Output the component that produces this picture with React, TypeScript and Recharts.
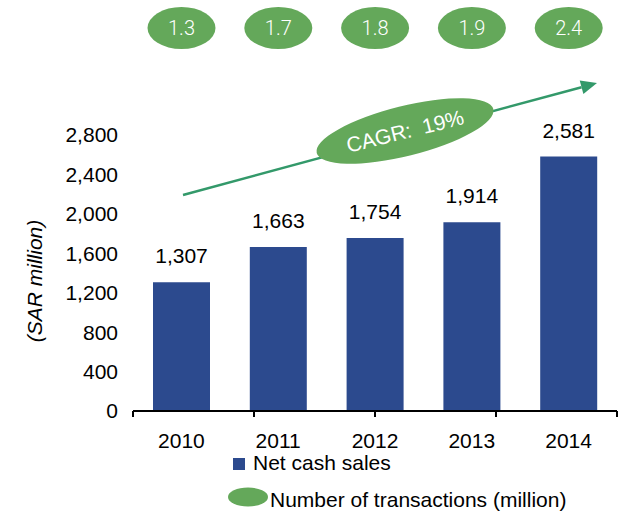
import React from 'react';
import {
  BarChart,
  Bar,
  XAxis,
  YAxis,
  LabelList,
  Legend,
  Customized,
} from 'recharts';

const years = ['2010', '2011', '2012', '2013', '2014'];
const netCashSales = [1307, 1663, 1754, 1914, 2581];
const transactions = [1.3, 1.7, 1.8, 1.9, 2.4];
const yTicks = [0, 400, 800, 1200, 1600, 2000, 2400, 2800];
const bandTicks = [0, 1, 2, 3, 4, 5];
const cagrText = 'CAGR:  19%';

const data = years.map((year, i) => ({
  year,
  sales: netCashSales[i],
  transactions: transactions[i],
}));

const BLUE = '#2C4A8E';
const GREEN = '#64A85A';
const ARROW = '#33996A';
const FONT = '"Liberation Sans", Arial, sans-serif';
const FS = 21;

const fmt = (v: number) => v.toLocaleString('en-US');

const TransactionBubble = (props: any) => {
  const { x, width, value } = props;
  const cx = Number(x) + Number(width) / 2;
  return (
    <g>
      <ellipse cx={cx} cy={28} rx={34} ry={21} fill={GREEN} />
      <text
        x={cx}
        y={28}
        dy="0.36em"
        textAnchor="middle"
        fill="#fff"
        fontSize={20}
        fontFamily="Roboto, sans-serif"
        fontWeight={300}
      >
        {value}
      </text>
    </g>
  );
};

const CagrArrow = () => {
  const x1 = 183;
  const y1 = 195;
  const x2 = 597;
  const y2 = 83;
  const ang = Math.atan2(y2 - y1, x2 - x1);
  const len = 16;
  const half = 7;
  const bx = x2 - len * Math.cos(ang);
  const by = y2 - len * Math.sin(ang);
  const px = -Math.sin(ang) * half;
  const py = Math.cos(ang) * half;
  return (
    <g>
      <line x1={x1} y1={y1} x2={bx} y2={by} stroke={ARROW} strokeWidth={2.5} />
      <polygon
        points={`${x2},${y2} ${bx + px},${by + py} ${bx - px},${by - py}`}
        fill={ARROW}
      />
      <ellipse
        cx={405}
        cy={131}
        rx={91}
        ry={25}
        fill={GREEN}
        transform="rotate(-14 405 131)"
      />
      <text
        x={405}
        y={131}
        dy="0.36em"
        textAnchor="middle"
        fill="#fff"
        fontSize={FS}
        fontFamily={FONT}
        style={{ whiteSpace: 'pre' }}
        transform="rotate(-14 405 131)"
      >
        {cagrText}
      </text>
    </g>
  );
};

const LegendBox = () => (
  <svg width={636} height={63} style={{ display: 'block' }}>
    <rect x={233} y={8} width={12} height={12} fill={BLUE} />
    <text x={253} y={20} fontSize={FS} fontFamily={FONT} fill="#000">
      Net cash sales
    </text>
    <ellipse cx={248} cy={47} rx={20} ry={9.5} fill={GREEN} />
    <text x={270} y={57} fontSize={FS} fontFamily={FONT} fill="#000">
      Number of transactions (million)
    </text>
  </svg>
);

const YTitle = (props: any) => {
  const vb = props.viewBox || { y: 135, height: 276 };
  const cy = vb.y + vb.height / 2 + 8;
  return (
    <text
      x={42}
      y={cy}
      textAnchor="middle"
      fontSize={FS}
      fontStyle="italic"
      fontFamily={FONT}
      fill="#000"
      transform={`rotate(-90 42 ${cy})`}
    >
      (SAR million)
    </text>
  );
};

export default function App() {
  return (
    <div style={{ position: 'absolute', left: 0, top: 0 }}>
      <BarChart
        width={636}
        height={513}
        data={data}
        margin={{ top: 135, right: 19, bottom: 71, left: 0 }}
        style={{ fontFamily: FONT }}
      >
        <XAxis
          type="number"
          domain={[0, 5]}
          ticks={bandTicks}
          height={1}
          axisLine={{ stroke: '#000', strokeWidth: 2 }}
          tickLine={{ stroke: '#000', strokeWidth: 2 }}
          tickSize={6}
          tickFormatter={() => ''}
          allowDataOverflow
        />
        <XAxis
          xAxisId="cat"
          dataKey="year"
          height={30}
          axisLine={false}
          tickLine={false}
          tickSize={0}
          tickMargin={21}
          tick={{ fill: '#000', fontSize: FS }}
        />
        <YAxis
          width={133}
          domain={[0, 2800]}
          ticks={yTicks}
          axisLine={false}
          tickLine={false}
          tickSize={0}
          tickMargin={15}
          tickFormatter={fmt}
          tick={{ fill: '#000', fontSize: FS }}
          label={{ content: <YTitle /> }}
        />
        <Bar
          xAxisId="cat"
          dataKey="sales"
          fill={BLUE}
          barSize={57}
          isAnimationActive={false}
        >
          <LabelList
            dataKey="sales"
            position="top"
            offset={19}
            formatter={(v: any) => fmt(Number(v))}
            fill="#000"
            fontSize={FS}
          />
          <LabelList dataKey="transactions" content={<TransactionBubble />} />
        </Bar>
        <Customized component={CagrArrow} />
        <Legend
          layout="vertical"
          align="center"
          verticalAlign="middle"
          wrapperStyle={{ position: 'absolute', left: 0, top: 450, width: 636, height: 63 }}
          content={() => <LegendBox />}
        />
      </BarChart>
    </div>
  );
}
